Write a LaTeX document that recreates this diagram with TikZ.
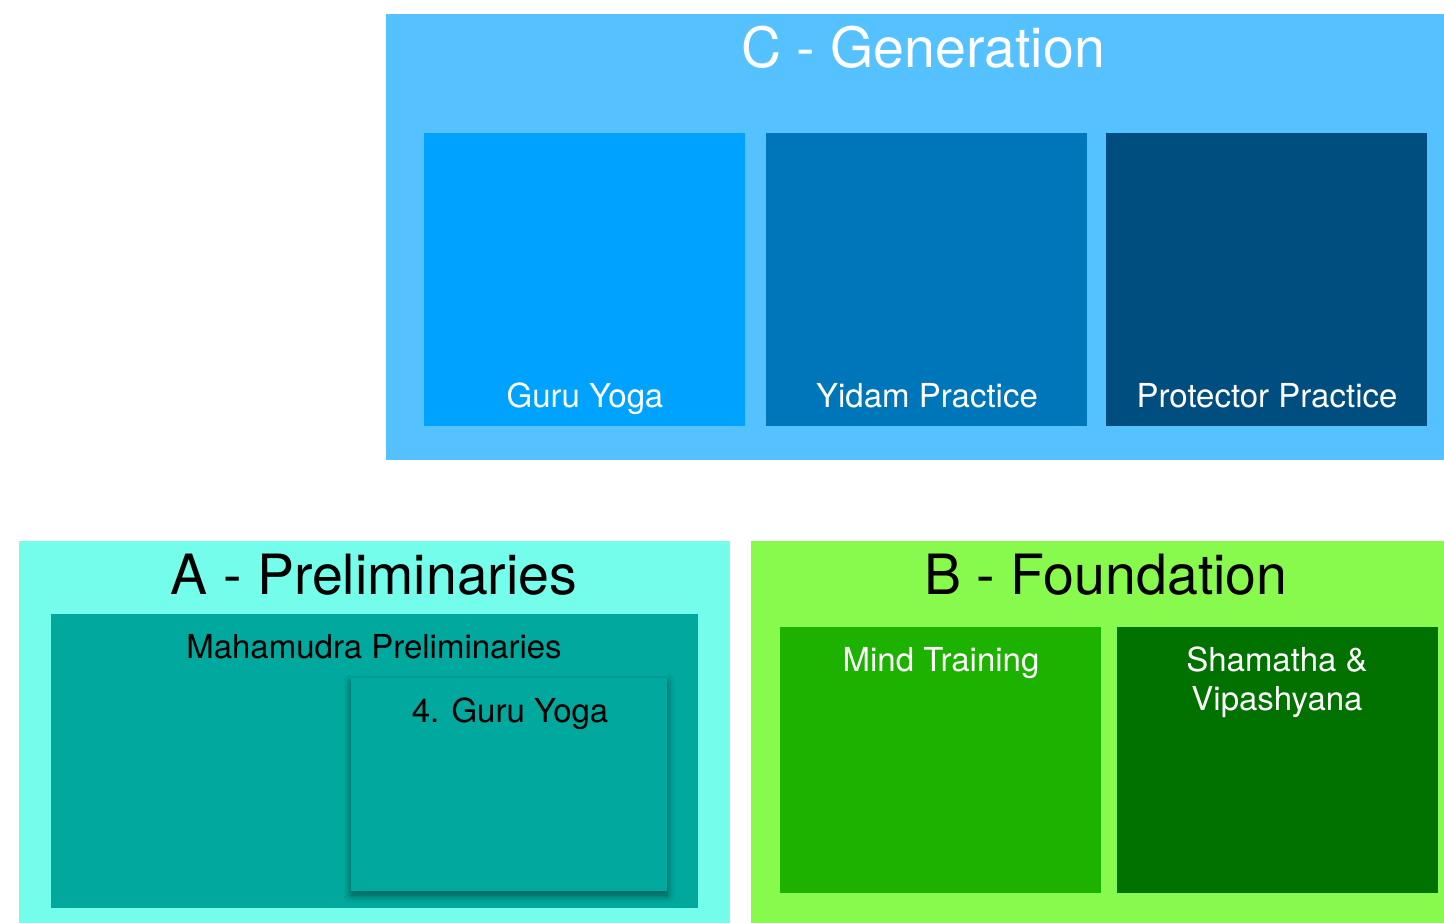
\documentclass[tikz,border=0pt]{standalone}
\usepackage{fontspec}
\setmainfont{TeX Gyre Heros}
\usetikzlibrary{shadows.blur}
\definecolor{cOuter}{HTML}{56C1FF}
\definecolor{cGuru}{HTML}{00A2FF}
\definecolor{cYidam}{HTML}{0076BA}
\definecolor{cProt}{HTML}{004D80}
\definecolor{aOuter}{HTML}{73FDEA}
\definecolor{aInner}{HTML}{00A89D}
\definecolor{bOuter}{HTML}{88FA4E}
\definecolor{bMind}{HTML}{1DB100}
\definecolor{bSham}{HTML}{017100}
\tikzset{
  panel/.style={anchor=north west, inner sep=0pt, outer sep=0pt, draw=none},
  title/.style={anchor=base, inner sep=0pt, font=\fontsize{55.5}{60}\selectfont},
  lbl/.style={anchor=base, inner sep=0pt, font=\fontsize{33}{40}\selectfont},
}
\begin{document}
\begin{tikzpicture}[x=1pt,y=-1pt]
\useasboundingbox (0,0) rectangle (1444,923);
% C - Generation
\node[panel, fill=cOuter, minimum width=1058pt, minimum height=446pt] (C) at (386,14) {};
\node[panel, fill=cGuru, minimum width=321pt, minimum height=293pt] (c1) at (424,133) {};
\node[panel, fill=cYidam, minimum width=321pt, minimum height=293pt] (c2) at (766,133) {};
\node[panel, fill=cProt, minimum width=321pt, minimum height=293pt] (c3) at (1106,133) {};
\node[title, text=white] (Ct) at (923,68) {C - Generation};
\node[lbl, text=white] (c1t) at (585,407) {Guru Yoga};
\node[lbl, text=white] (c2t) at (927,407) {Yidam Practice};
\node[lbl, text=white] (c3t) at (1267,407) {Protector Practice};
% A - Preliminaries
\node[panel, fill=aOuter, minimum width=711pt, minimum height=382pt] (A) at (19,541) {};
\node[panel, fill=aInner, minimum width=647pt, minimum height=294pt] (a1) at (51,614) {};
\node[panel, fill=aInner, minimum width=316pt, minimum height=213pt,
  blur shadow={shadow xshift=0pt, shadow yshift=-4pt, shadow blur radius=7pt, shadow blur steps=10, shadow blur extra rounding=0pt, shadow opacity=50}] (a2) at (351,678) {};
\node[title] (At) at (374,594) {A - Preliminaries};
\node[lbl] (a1t) at (374,658) {Mahamudra Preliminaries};
\node[lbl] (a2t) at (510,722) {4. Guru Yoga};
% B - Foundation
\node[panel, fill=bOuter, minimum width=693pt, minimum height=382pt] (B) at (751,541) {};
\node[panel, fill=bMind, minimum width=321pt, minimum height=266pt] (b1) at (780,627) {};
\node[panel, fill=bSham, minimum width=321pt, minimum height=266pt] (b2) at (1117,627) {};
\node[title] (Bt) at (1106,594) {B - Foundation};
\node[lbl, text=white] (b1t) at (941,671) {Mind Training};
\node[lbl, text=white] (b2t) at (1277,671) {Shamatha \&};
\node[lbl, text=white] (b2u) at (1277,710) {Vipashyana};
\end{tikzpicture}
\end{document}
